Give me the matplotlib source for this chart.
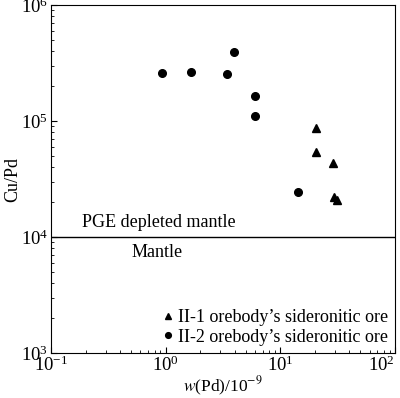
import numpy as np
import matplotlib.pyplot as plt

plt.rcParams['font.family'] = ['Liberation Serif', 'DejaVu Serif']
plt.rcParams['mathtext.fontset'] = 'stix'
plt.rcParams['font.size'] = 13

# II-1 orebody (triangles)
pd_ii1 = [20.3, 20.5, 28.7, 29.3, 31.3]
cupd_ii1 = [8.65e4, 5.37e4, 4.32e4, 2.2e4, 2.08e4]

# II-2 orebody (circles)
pd_ii2 = [0.92, 1.66, 3.44, 3.96, 6.04, 6.04, 14.3]
cupd_ii2 = [2.61e5, 2.66e5, 2.54e5, 3.96e5, 1.64e5, 1.10e5, 2.43e4]

mantle_level = 1e4

fig = plt.figure(figsize=(4.0, 3.98), dpi=100)
ax = fig.add_axes([0.1275, 0.113, 0.86, 0.874])

ax.plot(pd_ii1, cupd_ii1, "^", color="black", markersize=5.5,
        label="II-1 orebody\u2019s sideronitic ore")
ax.plot(pd_ii2, cupd_ii2, "o", color="black", markersize=5.5,
        label="II-2 orebody\u2019s sideronitic ore")

ax.axhline(mantle_level, color="black", linewidth=1.0)
ax.text(0.88, 1.12e4, "PGE depleted mantle", ha="center", va="bottom")
ax.text(0.85, 0.88e4, "Mantle", ha="center", va="top")

ax.set_xscale("log")
ax.set_yscale("log")
ax.set_xlim(0.1, 100)
ax.set_ylim(1e3, 1e6)

ax.tick_params(which="both", direction="in", top=False, right=False,
               labelsize=13.5)
ax.tick_params(which="major", length=4, pad=2)
ax.tick_params(which="minor", length=2)

# keep the 10^2 label inside the figure
fig.canvas.draw()
for lab in ax.get_xticklabels():
    if lab.get_position()[0] >= 99:
        lab.set_horizontalalignment("right")

ax.set_xlabel(r"$w$(Pd)/10$^{-9}$", labelpad=0, fontsize=12.5)
ax.set_ylabel("Cu/Pd", labelpad=0)

ax.legend(loc="lower right", frameon=False, handlelength=0.5,
          handletextpad=0.3, borderaxespad=0.2, borderpad=0.2,
          labelspacing=0.15, markerscale=0.75)

fig.savefig("out.png", dpi=100)
